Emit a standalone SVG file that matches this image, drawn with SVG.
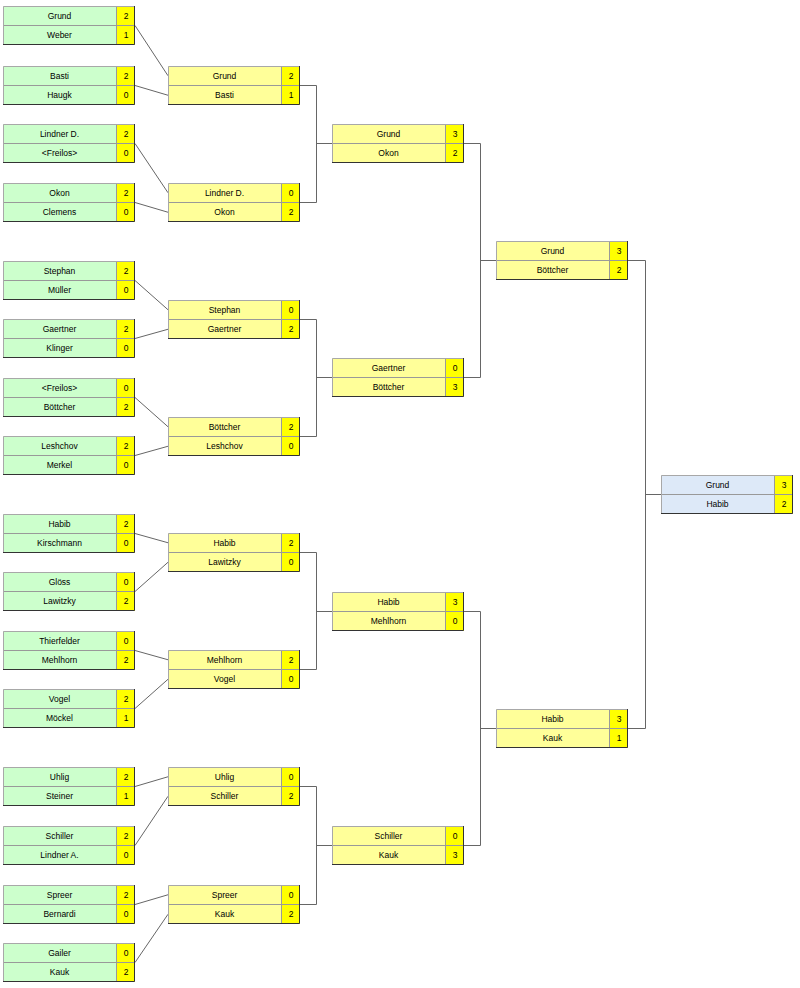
<svg xmlns="http://www.w3.org/2000/svg" width="800" height="988" viewBox="0 0 800 988">
<style>
.g{fill:#ccffcc}.y{fill:#ffff99}.b{fill:#dde9f8}.s{fill:#ffff00}
.dv{fill:none;stroke:#999;stroke-width:1}
.tl{fill:none;stroke:#a8a8a8;stroke-width:1}
.br{fill:none;stroke:#333;stroke-width:1}
.t{font-family:"Liberation Sans",Arial,sans-serif;font-size:8.5px;fill:#000;text-anchor:middle}
.c{fill:none;stroke:#666;stroke-width:1}
</style>
<defs>
<g id="frame">
<path class="dv" d="M0,19.5H132M113.5,0V39"/>
<path class="tl" d="M0.5,39V0.5H132"/>
<path class="br" d="M0,38.5H131.5V0"/>
</g>
</defs>
<rect width="800" height="988" fill="#fff"/>
<g id="connectors">
<path class="c" d="M135,25.5L168,75.75M135,85.5L168,95.25M135,143.5L168,192.75M135,202.5L168,212.25M135,280.5L168,309.75M135,338.5L168,329.25M135,397.5L168,426.75M135,455.5L168,446.25M135,533.5L168,542.75M135,591.5L168,562.25M135,650.5L168,659.75M135,708.5L168,679.25M135,786.5L168,776.75M135,845.5L168,796.25M135,904.5L168,894.75M135,962.5L168,914.25"/>
<path class="c" d="M300,85.5H316.5V202.5H300M316.5,143.5H332M300,319.5H316.5V436.5H300M316.5,377.5H332M300,552.5H316.5V669.5H300M316.5,611.5H332M300,786.5H316.5V904.5H300M316.5,845.5H332"/>
<path class="c" d="M464,143.5H480.5V377.5H464M480.5,260.5H496M464,611.5H480.5V845.5H464M480.5,728.5H496"/>
<path class="c" d="M628,260.5H645.5V728.5H628M645.5,494.5H661"/>
</g>
<g id="r1-1" transform="translate(3,6)"><rect class="g" width="113" height="39"/><rect class="s" x="113" width="19" height="39"/><use href="#frame"/><text class="t" x="56.5" y="12.8">Grund</text><text class="t" x="123" y="12.8">2</text><text class="t" x="56.5" y="32.3">Weber</text><text class="t" x="123" y="32.3">1</text></g>
<g id="r1-2" transform="translate(3,66)"><rect class="g" width="113" height="39"/><rect class="s" x="113" width="19" height="39"/><use href="#frame"/><text class="t" x="56.5" y="12.8">Basti</text><text class="t" x="123" y="12.8">2</text><text class="t" x="56.5" y="32.3">Haugk</text><text class="t" x="123" y="32.3">0</text></g>
<g id="r1-3" transform="translate(3,124)"><rect class="g" width="113" height="39"/><rect class="s" x="113" width="19" height="39"/><use href="#frame"/><text class="t" x="56.5" y="12.8">Lindner D.</text><text class="t" x="123" y="12.8">2</text><text class="t" x="56.5" y="32.3">&lt;Freilos&gt;</text><text class="t" x="123" y="32.3">0</text></g>
<g id="r1-4" transform="translate(3,183)"><rect class="g" width="113" height="39"/><rect class="s" x="113" width="19" height="39"/><use href="#frame"/><text class="t" x="56.5" y="12.8">Okon</text><text class="t" x="123" y="12.8">2</text><text class="t" x="56.5" y="32.3">Clemens</text><text class="t" x="123" y="32.3">0</text></g>
<g id="r1-5" transform="translate(3,261)"><rect class="g" width="113" height="39"/><rect class="s" x="113" width="19" height="39"/><use href="#frame"/><text class="t" x="56.5" y="12.8">Stephan</text><text class="t" x="123" y="12.8">2</text><text class="t" x="56.5" y="32.3">Müller</text><text class="t" x="123" y="32.3">0</text></g>
<g id="r1-6" transform="translate(3,319)"><rect class="g" width="113" height="39"/><rect class="s" x="113" width="19" height="39"/><use href="#frame"/><text class="t" x="56.5" y="12.8">Gaertner</text><text class="t" x="123" y="12.8">2</text><text class="t" x="56.5" y="32.3">Klinger</text><text class="t" x="123" y="32.3">0</text></g>
<g id="r1-7" transform="translate(3,378)"><rect class="g" width="113" height="39"/><rect class="s" x="113" width="19" height="39"/><use href="#frame"/><text class="t" x="56.5" y="12.8">&lt;Freilos&gt;</text><text class="t" x="123" y="12.8">0</text><text class="t" x="56.5" y="32.3">Böttcher</text><text class="t" x="123" y="32.3">2</text></g>
<g id="r1-8" transform="translate(3,436)"><rect class="g" width="113" height="39"/><rect class="s" x="113" width="19" height="39"/><use href="#frame"/><text class="t" x="56.5" y="12.8">Leshchov</text><text class="t" x="123" y="12.8">2</text><text class="t" x="56.5" y="32.3">Merkel</text><text class="t" x="123" y="32.3">0</text></g>
<g id="r1-9" transform="translate(3,514)"><rect class="g" width="113" height="39"/><rect class="s" x="113" width="19" height="39"/><use href="#frame"/><text class="t" x="56.5" y="12.8">Habib</text><text class="t" x="123" y="12.8">2</text><text class="t" x="56.5" y="32.3">Kirschmann</text><text class="t" x="123" y="32.3">0</text></g>
<g id="r1-10" transform="translate(3,572)"><rect class="g" width="113" height="39"/><rect class="s" x="113" width="19" height="39"/><use href="#frame"/><text class="t" x="56.5" y="12.8">Glöss</text><text class="t" x="123" y="12.8">0</text><text class="t" x="56.5" y="32.3">Lawitzky</text><text class="t" x="123" y="32.3">2</text></g>
<g id="r1-11" transform="translate(3,631)"><rect class="g" width="113" height="39"/><rect class="s" x="113" width="19" height="39"/><use href="#frame"/><text class="t" x="56.5" y="12.8">Thierfelder</text><text class="t" x="123" y="12.8">0</text><text class="t" x="56.5" y="32.3">Mehlhorn</text><text class="t" x="123" y="32.3">2</text></g>
<g id="r1-12" transform="translate(3,689)"><rect class="g" width="113" height="39"/><rect class="s" x="113" width="19" height="39"/><use href="#frame"/><text class="t" x="56.5" y="12.8">Vogel</text><text class="t" x="123" y="12.8">2</text><text class="t" x="56.5" y="32.3">Möckel</text><text class="t" x="123" y="32.3">1</text></g>
<g id="r1-13" transform="translate(3,767)"><rect class="g" width="113" height="39"/><rect class="s" x="113" width="19" height="39"/><use href="#frame"/><text class="t" x="56.5" y="12.8">Uhlig</text><text class="t" x="123" y="12.8">2</text><text class="t" x="56.5" y="32.3">Steiner</text><text class="t" x="123" y="32.3">1</text></g>
<g id="r1-14" transform="translate(3,826)"><rect class="g" width="113" height="39"/><rect class="s" x="113" width="19" height="39"/><use href="#frame"/><text class="t" x="56.5" y="12.8">Schiller</text><text class="t" x="123" y="12.8">2</text><text class="t" x="56.5" y="32.3">Lindner A.</text><text class="t" x="123" y="32.3">0</text></g>
<g id="r1-15" transform="translate(3,885)"><rect class="g" width="113" height="39"/><rect class="s" x="113" width="19" height="39"/><use href="#frame"/><text class="t" x="56.5" y="12.8">Spreer</text><text class="t" x="123" y="12.8">2</text><text class="t" x="56.5" y="32.3">Bernardi</text><text class="t" x="123" y="32.3">0</text></g>
<g id="r1-16" transform="translate(3,943)"><rect class="g" width="113" height="39"/><rect class="s" x="113" width="19" height="39"/><use href="#frame"/><text class="t" x="56.5" y="12.8">Gailer</text><text class="t" x="123" y="12.8">0</text><text class="t" x="56.5" y="32.3">Kauk</text><text class="t" x="123" y="32.3">2</text></g>
<g id="r2-1" transform="translate(168,66)"><rect class="y" width="113" height="39"/><rect class="s" x="113" width="19" height="39"/><use href="#frame"/><text class="t" x="56.5" y="12.8">Grund</text><text class="t" x="123" y="12.8">2</text><text class="t" x="56.5" y="32.3">Basti</text><text class="t" x="123" y="32.3">1</text></g>
<g id="r2-2" transform="translate(168,183)"><rect class="y" width="113" height="39"/><rect class="s" x="113" width="19" height="39"/><use href="#frame"/><text class="t" x="56.5" y="12.8">Lindner D.</text><text class="t" x="123" y="12.8">0</text><text class="t" x="56.5" y="32.3">Okon</text><text class="t" x="123" y="32.3">2</text></g>
<g id="r2-3" transform="translate(168,300)"><rect class="y" width="113" height="39"/><rect class="s" x="113" width="19" height="39"/><use href="#frame"/><text class="t" x="56.5" y="12.8">Stephan</text><text class="t" x="123" y="12.8">0</text><text class="t" x="56.5" y="32.3">Gaertner</text><text class="t" x="123" y="32.3">2</text></g>
<g id="r2-4" transform="translate(168,417)"><rect class="y" width="113" height="39"/><rect class="s" x="113" width="19" height="39"/><use href="#frame"/><text class="t" x="56.5" y="12.8">Böttcher</text><text class="t" x="123" y="12.8">2</text><text class="t" x="56.5" y="32.3">Leshchov</text><text class="t" x="123" y="32.3">0</text></g>
<g id="r2-5" transform="translate(168,533)"><rect class="y" width="113" height="39"/><rect class="s" x="113" width="19" height="39"/><use href="#frame"/><text class="t" x="56.5" y="12.8">Habib</text><text class="t" x="123" y="12.8">2</text><text class="t" x="56.5" y="32.3">Lawitzky</text><text class="t" x="123" y="32.3">0</text></g>
<g id="r2-6" transform="translate(168,650)"><rect class="y" width="113" height="39"/><rect class="s" x="113" width="19" height="39"/><use href="#frame"/><text class="t" x="56.5" y="12.8">Mehlhorn</text><text class="t" x="123" y="12.8">2</text><text class="t" x="56.5" y="32.3">Vogel</text><text class="t" x="123" y="32.3">0</text></g>
<g id="r2-7" transform="translate(168,767)"><rect class="y" width="113" height="39"/><rect class="s" x="113" width="19" height="39"/><use href="#frame"/><text class="t" x="56.5" y="12.8">Uhlig</text><text class="t" x="123" y="12.8">0</text><text class="t" x="56.5" y="32.3">Schiller</text><text class="t" x="123" y="32.3">2</text></g>
<g id="r2-8" transform="translate(168,885)"><rect class="y" width="113" height="39"/><rect class="s" x="113" width="19" height="39"/><use href="#frame"/><text class="t" x="56.5" y="12.8">Spreer</text><text class="t" x="123" y="12.8">0</text><text class="t" x="56.5" y="32.3">Kauk</text><text class="t" x="123" y="32.3">2</text></g>
<g id="r3-1" transform="translate(332,124)"><rect class="y" width="113" height="39"/><rect class="s" x="113" width="19" height="39"/><use href="#frame"/><text class="t" x="56.5" y="12.8">Grund</text><text class="t" x="123" y="12.8">3</text><text class="t" x="56.5" y="32.3">Okon</text><text class="t" x="123" y="32.3">2</text></g>
<g id="r3-2" transform="translate(332,358)"><rect class="y" width="113" height="39"/><rect class="s" x="113" width="19" height="39"/><use href="#frame"/><text class="t" x="56.5" y="12.8">Gaertner</text><text class="t" x="123" y="12.8">0</text><text class="t" x="56.5" y="32.3">Böttcher</text><text class="t" x="123" y="32.3">3</text></g>
<g id="r3-3" transform="translate(332,592)"><rect class="y" width="113" height="39"/><rect class="s" x="113" width="19" height="39"/><use href="#frame"/><text class="t" x="56.5" y="12.8">Habib</text><text class="t" x="123" y="12.8">3</text><text class="t" x="56.5" y="32.3">Mehlhorn</text><text class="t" x="123" y="32.3">0</text></g>
<g id="r3-4" transform="translate(332,826)"><rect class="y" width="113" height="39"/><rect class="s" x="113" width="19" height="39"/><use href="#frame"/><text class="t" x="56.5" y="12.8">Schiller</text><text class="t" x="123" y="12.8">0</text><text class="t" x="56.5" y="32.3">Kauk</text><text class="t" x="123" y="32.3">3</text></g>
<g id="r4-1" transform="translate(496,241)"><rect class="y" width="113" height="39"/><rect class="s" x="113" width="19" height="39"/><use href="#frame"/><text class="t" x="56.5" y="12.8">Grund</text><text class="t" x="123" y="12.8">3</text><text class="t" x="56.5" y="32.3">Böttcher</text><text class="t" x="123" y="32.3">2</text></g>
<g id="r4-2" transform="translate(496,709)"><rect class="y" width="113" height="39"/><rect class="s" x="113" width="19" height="39"/><use href="#frame"/><text class="t" x="56.5" y="12.8">Habib</text><text class="t" x="123" y="12.8">3</text><text class="t" x="56.5" y="32.3">Kauk</text><text class="t" x="123" y="32.3">1</text></g>
<g id="final" transform="translate(661,475)"><rect class="b" width="113" height="39"/><rect class="s" x="113" width="19" height="39"/><use href="#frame"/><text class="t" x="56.5" y="12.8">Grund</text><text class="t" x="123" y="12.8">3</text><text class="t" x="56.5" y="32.3">Habib</text><text class="t" x="123" y="32.3">2</text></g>
</svg>
